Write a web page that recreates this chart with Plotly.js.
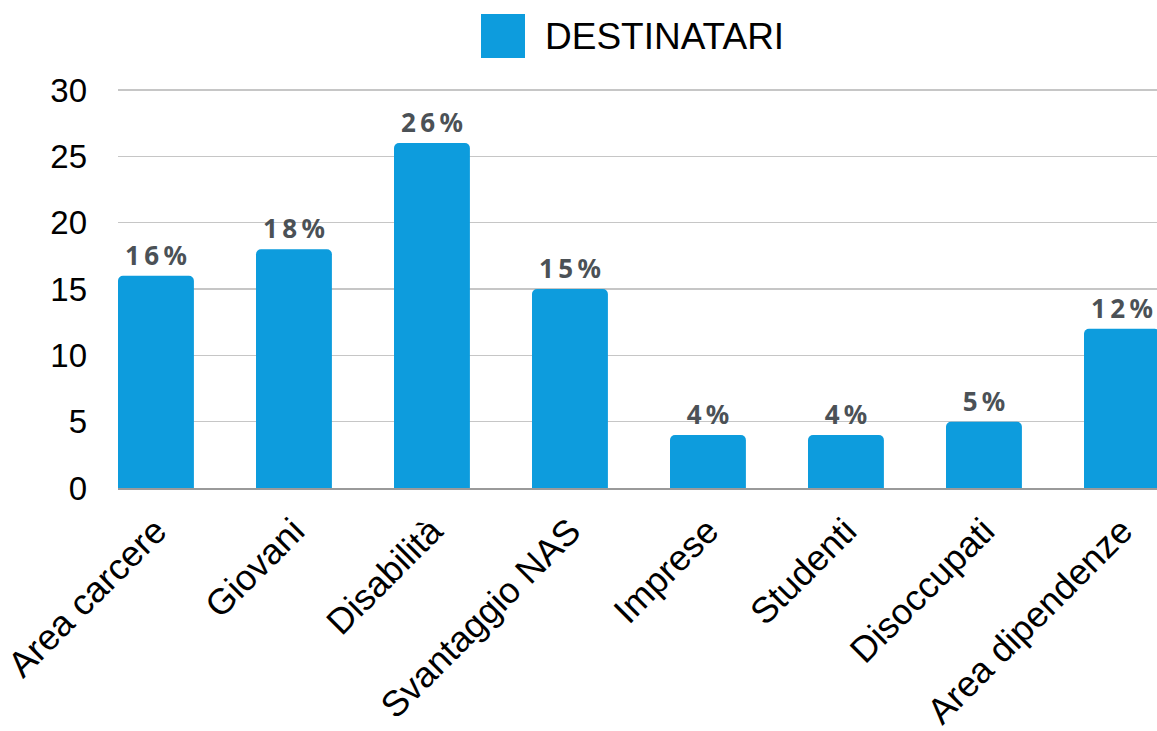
<!DOCTYPE html>
<html><head><meta charset="utf-8">
<script src="https://cdn.plot.ly/plotly-3.0.1.min.js"></script>
<style>html,body{margin:0;padding:0;overflow:hidden;background:#fff}</style>
</head><body><div id="chart" style="width:1157px;height:731px"></div>
<script>
const categories = ["Area carcere","Giovani","Disabilità","Svantaggio NAS","Imprese","Studenti","Disoccupati","Area dipendenze"];
const values = [16,18,26,15,4,4,5,12];
const seriesName = "DESTINATARI";
const yTicks = [0,5,10,15,20,25,30];

const labels = values.map(v => String(v).split("").concat(["%"]).join("\u2009"));

const trace = {
  type: "bar", x: categories, y: values, name: seriesName,
  marker: {color: "#0d9cdd"},
  text: labels, textposition: "outside", constraintext: "none", cliponaxis: false,
  textfont: {family: "Noto Sans", size: 26, weight: 700, color: "#4b5156"},
  hoverinfo: "x+y", showlegend: false
};

const plotTop = 87, plotBottom = 488, plotH = plotBottom - plotTop;
const layout = {
  width: 1157, height: 731,
  margin: {l: 118, r: 0, t: plotTop, b: 731 - plotBottom, pad: 0},
  paper_bgcolor: "#fff", plot_bgcolor: "#fff",
  bargap: 0.45, barcornerradius: 5,
  font: {family: "Liberation Sans, Arial, sans-serif", color: "#000"},
  xaxis: {range: [-0.275, 7.254], tickangle: -45, tickfont: {size: 36, color: "#000"},
          showgrid: false, showline: true, linecolor: "#9a9a9a", linewidth: 1.5,
          ticks: "", ticklabelstandoff: 6, fixedrange: true},
  yaxis: {range: [0, 30 * plotH / 398], tickvals: yTicks, tickfont: {size: 33, color: "#000"},
          showgrid: true, gridcolor: "#c6c6c6", gridwidth: 1.5, zeroline: false,
          showline: false, ticks: "", ticklabelstandoff: 30, fixedrange: true},
  shapes: [{type: "rect", xref: "paper", yref: "paper",
            x0: (481-118)/1039, x1: (525-118)/1039,
            y0: (plotBottom-58)/plotH, y1: (plotBottom-14)/plotH,
            fillcolor: "#0d9cdd", line: {width: 0}}],
  annotations: [{xref: "paper", yref: "paper", x: (543-118)/1039, y: (plotBottom-36)/plotH,
                 xanchor: "left", yanchor: "middle", showarrow: false, text: seriesName,
                 font: {size: 37, color: "#000", family: "Liberation Sans, Arial, sans-serif"}}]
};

Plotly.newPlot("chart", [trace], layout, {displayModeBar: false, staticPlot: true});
</script></body></html>
